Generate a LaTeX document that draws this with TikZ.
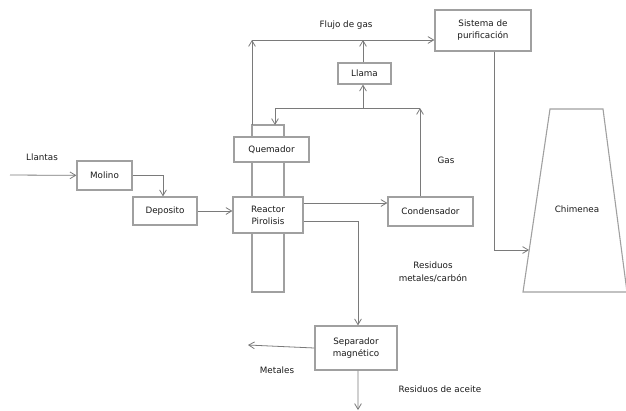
\documentclass[tikz,border=0pt]{standalone}
\usepackage{fontspec}
\setmainfont{DejaVu Sans}
\usepackage{tikz}
\usetikzlibrary{arrows.meta, calc, positioning}
\definecolor{boxgray}{HTML}{A0A0A0}
\definecolor{linegray}{HTML}{7A7A7A}
\definecolor{txtgray}{HTML}{1A1A1A}
\tikzset{
  procbox/.style  = {draw=boxgray, fill=white, line width=1.3pt,
                     inner sep=0pt, align=center, text=txtgray,
                     font=\fontsize{8.8}{12}\selectfont},
  flowline/.style = {draw=linegray, line width=0.8pt},
  flowarrow/.style = {flowline, -{Straight Barb[length=2mm, width=2.4mm]}},
  flowlab/.style  = {text=txtgray, align=center, inner sep=0pt,
                     font=\fontsize{8.8}{13}\selectfont},
  tubewall/.style = {draw=boxgray, line width=1.1pt},
}

\begin{document}
\begin{tikzpicture}[x=1bp, y=-1bp]
    \useasboundingbox (0,0) rectangle (626,410);
    % reactor tube behind the boxes
    \draw[tubewall] (252,125) rectangle (284,292);
    \node[procbox, minimum width=55bp, minimum height=29bp] (molino) at (104.5,175.5) {Molino};
    \node[procbox, minimum width=64bp, minimum height=28bp] (deposito) at (165,211) {Deposito};
    \node[procbox, minimum width=70bp, minimum height=36bp] (reactor) at (268,215) {Reactor\\Pirolisis};
    \node[procbox, minimum width=75bp, minimum height=25bp] (quemador) at (271.5,149.5) {Quemador};
    \node[procbox, minimum width=53bp, minimum height=21bp] (llama) at (364.5,73.5) {Llama};
    \node[procbox, minimum width=96bp, minimum height=41bp] (sistema) at (483,30.5) {Sistema de\\purificación};
    \node[procbox, minimum width=85bp, minimum height=29bp] (condensador) at (430.5,211.5) {Condensador};
    \node[procbox, minimum width=82bp, minimum height=44bp] (separador) at (356,348) {Separador\\magnético};
    % chimney
    \draw[tubewall] (523,292) -- (550,109) -- (603,109) -- (627,292) -- cycle;
    \node[flowlab] (chimenea) at (577,209) {Chimenea};
    % free ends of connectors
    \coordinate (llantasin) at (10,175);
    \coordinate (gasjoin) at (420,108);
    \coordinate (llamajoin) at (363,108);
    \coordinate (quemjoin) at (275,108);
    \coordinate (tubetop) at (275,125);
    \coordinate (flujoleft) at (252,40);
    \coordinate (flujomid) at (363,40);
    \coordinate (chimin) at (529,250);
    \coordinate (metalout) at (248,345);
    \coordinate (aceiteout) at (358,410);
    % connectors
    \draw[flowarrow] (llantasin) -- (molino);
    \draw[flowarrow] (molino.east) -| ([xshift=-2bp]deposito.north);
    \draw[flowarrow] (deposito.east) -- (deposito.east -| reactor.west);
    \draw[flowarrow] ([yshift=12bp]reactor.east) -- ([yshift=12bp]reactor.east -| condensador.west);
    \draw[flowarrow] ([yshift=-6bp]reactor.east) -| ([xshift=2bp]separador.north);
    \draw[flowarrow] (condensador.north -| gasjoin) -- (gasjoin);
    \draw[flowline] (quemjoin) -- (gasjoin);
    \draw[flowarrow] (quemjoin) -- (tubetop);
    \draw[flowarrow] (llamajoin) -- (llama.south -| llamajoin);
    \draw[flowarrow] (llama.north -| flujomid) -- (flujomid);
    \draw[flowarrow] (252,125) -- (flujoleft);
    \draw[flowarrow] (flujoleft) -- (flujoleft -| sistema.west);
    \draw[flowarrow] ([xshift=11bp]sistema.south) |- (chimin);
    \draw[flowarrow] (separador.west) -- (metalout);
    \draw[flowarrow] ([xshift=2bp]separador.south) -- (aceiteout);
    % labels
    \node[flowlab] (llantas) at (42,157) {Llantas};
    \node[flowlab] (flujo) at (346,25) {Flujo de gas};
    \node[flowlab] (gas) at (446,160) {Gas};
    \node[flowlab] (resmet) at (433,272) {Residuos\\metales/carbón};
    \node[flowlab] (metales) at (277,370) {Metales};
    \node[flowlab] (aceite) at (440,389) {Residuos de aceite};
  \end{tikzpicture}
\end{document}
